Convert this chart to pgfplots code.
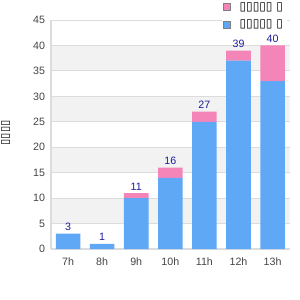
\documentclass[border=0pt]{standalone}
\usepackage{pgfplots}
\pgfplotsset{compat=1.18}
\usepackage{fontspec}
\setmainfont{Liberation Sans}
\newfontfamily\boxfont{DejaVu Sans}
\definecolor{barblue}{HTML}{5FA8F5}
\definecolor{barpink}{HTML}{F485B9}
\definecolor{lblblue}{HTML}{1C1C9C}
\definecolor{gridc}{HTML}{DCDCDC}
\definecolor{bandc}{HTML}{F2F2F2}
\definecolor{tickc}{HTML}{444444}
\pgfplotsset{samegeom/.style={at={(0,0)}, anchor=south west,
  scale only axis, width=179pt, height=171.75pt,
  xmin=-0.5, xmax=6.5, ymin=0, ymax=45,
  /pgf/number format/assume math mode=true}}
\begin{document}
\begin{tikzpicture}
\useasboundingbox (-38.25pt,-38.25pt) rectangle (186.75pt,186.75pt);
\begin{axis}[samegeom, axis lines=none, ticks=none]
\fill[bandc] (axis cs:-0.5,5) rectangle (axis cs:6.5,10);
\fill[bandc] (axis cs:-0.5,15) rectangle (axis cs:6.5,20);
\fill[bandc] (axis cs:-0.5,25) rectangle (axis cs:6.5,30);
\fill[bandc] (axis cs:-0.5,35) rectangle (axis cs:6.5,40);
\end{axis}
\begin{axis}[
  samegeom,
  ybar stacked, bar width=0.72,
  xtick={0,1,2,3,4,5,6},
  xticklabels={7h,8h,9h,10h,11h,12h,13h},
  ytick={0,5,...,45},
  ymajorgrids, grid style={gridc, line width=0.6pt},
  axis x line*=bottom, axis y line*=left,
  axis line style={gridc, line width=0.8pt},
  major tick length=0pt,
  tick label style={font=\fontsize{8}{9}\selectfont, text=tickc},
  xticklabel style={yshift=-3pt},
  yticklabel style={xshift=-1pt},
  ylabel={\boxfont ▯▯▯▯},
  ylabel style={font=\fontsize{8.5}{9}\selectfont, anchor=center, at={(axis description cs:-0.19,0.507)}},
  legend style={at={(0.99,1.095)}, anchor=north east, draw=none, fill=white,
    font=\fontsize{9}{10}\selectfont, row sep=2pt, inner sep=1pt},
  legend cell align=left,
  reverse legend,
  legend image code/.code={\draw[fill=#1, draw=gray, line width=0.6pt] (0cm,-0.08cm) rectangle (0.17cm,0.1cm); \path (0.35cm,0) -- (0.35cm,0.01cm);},
]
\addplot[fill=barblue, draw=none] coordinates {(0,3) (1,1) (2,10) (3,14) (4,25) (5,37) (6,33)};
\addlegendentry{\boxfont ▯▯▯▯▯ ▯}
\addplot[fill=barpink, draw=none]
  coordinates {(0,0) (1,0) (2,1) (3,2) (4,2) (5,2) (6,7)};
\addlegendentry{\boxfont ▯▯▯▯▯ ▯}
\end{axis}
\begin{axis}[samegeom, axis lines=none, ticks=none, clip=false,
  nodes near coords style={font=\fontsize{8}{9}\selectfont, text=lblblue, inner sep=2pt}]
\addplot[only marks, mark=none, draw=none, nodes near coords]
  coordinates {(0,3) (1,1) (2,11) (3,16) (4,27) (5,39) (6,40)};
\end{axis}
\end{tikzpicture}
\end{document}
